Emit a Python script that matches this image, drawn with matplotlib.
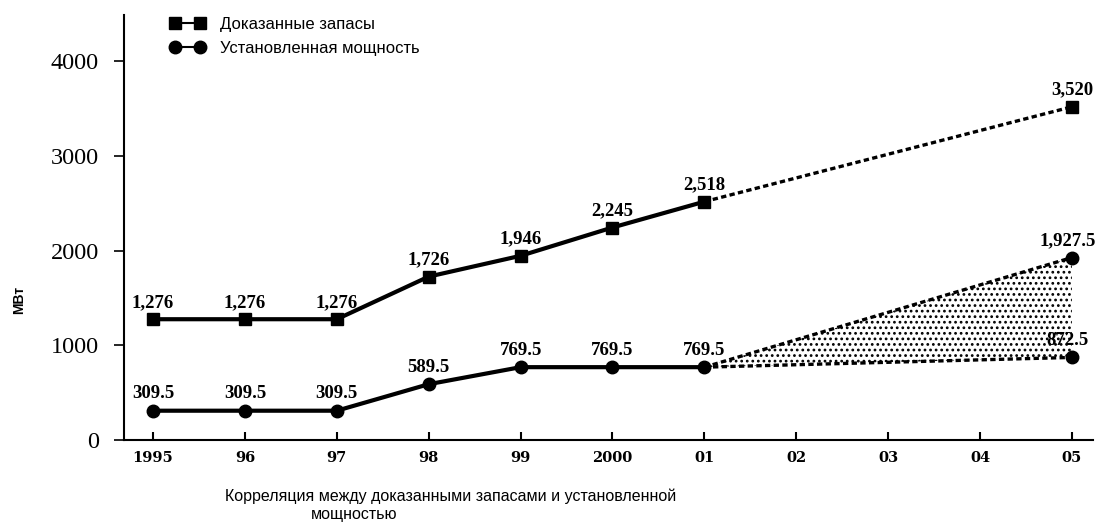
import matplotlib
matplotlib.use('Agg')
import matplotlib.pyplot as plt
from matplotlib.lines import Line2D

# data
years = [1995, 1996, 1997, 1998, 1999, 2000, 2001]
reserves = [1276, 1276, 1276, 1726, 1946, 2245, 2518]
capacity = [309.5, 309.5, 309.5, 589.5, 769.5, 769.5, 769.5]
forecast_year = 2005
reserves_2005 = 3520
capacity_2005_high = 1927.5
capacity_2005_low = 872.5

tick_years = list(range(1995, 2006))
tick_labels = ['1995', '96', '97', '98', '99', '2000', '01', '02', '03', '04', '05']
legend_labels = ['Доказанные запасы', 'Установленная мощность']
caption_1 = 'Корреляция между доказанными запасами и установленной'
caption_2 = 'мощностью'


def fmt(v):
    if float(v).is_integer():
        return '{:,}'.format(int(v))
    return '{:,.1f}'.format(v)


plt.rcParams['hatch.linewidth'] = 1.2
num_font = dict(family='Liberation Serif', weight='bold', size=13.5)

fig = plt.figure(figsize=(10.96, 5.23), dpi=100)
ax = fig.add_axes([124/1096, 83/523, (1093-124)/1096, (440-15)/523])

dash = (0, (1.6, 1.0))

# forecast shading between the two capacity forecasts
ax.fill_between([years[-1], forecast_year], [capacity[-1], capacity_2005_low],
                [capacity[-1], capacity_2005_high], facecolor='none',
                edgecolor='black', hatch='...', linewidth=0)

# dashed forecast lines
ax.plot([years[-1], forecast_year], [reserves[-1], reserves_2005], color='black', lw=2.4, ls=dash)
ax.plot([years[-1], forecast_year], [capacity[-1], capacity_2005_high], color='black', lw=2.4, ls=dash)
ax.plot([years[-1], forecast_year], [capacity[-1], capacity_2005_low], color='black', lw=2.4, ls=dash)

# solid actual lines
ax.plot(years, reserves, color='black', lw=3, marker='s', ms=8.5)
ax.plot(years, capacity, color='black', lw=3, marker='o', ms=9)
ax.plot([forecast_year], [reserves_2005], color='black', marker='s', ms=8.5, ls='none')
ax.plot([forecast_year] * 2, [capacity_2005_high, capacity_2005_low], color='black',
        marker='o', ms=9, ls='none')

# value labels
for x, y in zip(years + [forecast_year], reserves + [reserves_2005]):
    ax.annotate(fmt(y), (x, y), xytext=(0, 6), textcoords='offset points',
                ha='center', va='bottom', annotation_clip=False, **num_font)
for x, y in zip(years + [forecast_year, forecast_year],
                capacity + [capacity_2005_high, capacity_2005_low]):
    ax.annotate(fmt(y), (x, y), xytext=(-3 if x == forecast_year else 0, 6),
                textcoords='offset points', ha='center', va='bottom',
                annotation_clip=False, **num_font)

ax.set_xlim(1994.684, 2005.23)
ax.set_ylim(0, 4490)
ax.set_xticks(tick_years)
ax.set_xticklabels(tick_labels, family='DejaVu Serif', weight='bold', size=10.5)
ax.set_yticks([0, 1000, 2000, 3000, 4000])
ax.set_yticklabels(['0', '1000', '2000', '3000', '4000'], family='Liberation Serif', size=17.5)
ax.tick_params(axis='x', direction='in', length=6, width=1.5, pad=8)
ax.tick_params(axis='y', direction='out', length=7, width=1.2, pad=11)
for s in ['top', 'right']:
    ax.spines[s].set_visible(False)
ax.spines['left'].set_linewidth(1.5)
ax.spines['bottom'].set_linewidth(1.5)

handles = [Line2D([], [], color='black', lw=1.5, marker='s', ms=8),
           Line2D([], [], color='black', lw=1.5, marker='o', ms=9)]
ax.legend(handles, legend_labels, loc='upper left', bbox_to_anchor=(170/1096, 1 - 17/523),
          bbox_transform=fig.transFigure, frameon=False, numpoints=2, handlelength=2.1,
          handletextpad=0.9, labelspacing=0.55, borderpad=0, borderaxespad=0,
          prop=dict(family='Liberation Sans', size=12))

fig.text(19/1096, 1 - 300/523, 'МВт', rotation=90, ha='center', va='center',
         family='Liberation Sans', weight='bold', size=10)
fig.text(451/1096, 1 - 496/523, caption_1, ha='center', va='center',
         family='Liberation Sans', size=11.5)
fig.text(354/1096, 1 - 515/523, caption_2, ha='center', va='center',
         family='Liberation Sans', size=11.5)

fig.savefig('out.png', dpi=100)
